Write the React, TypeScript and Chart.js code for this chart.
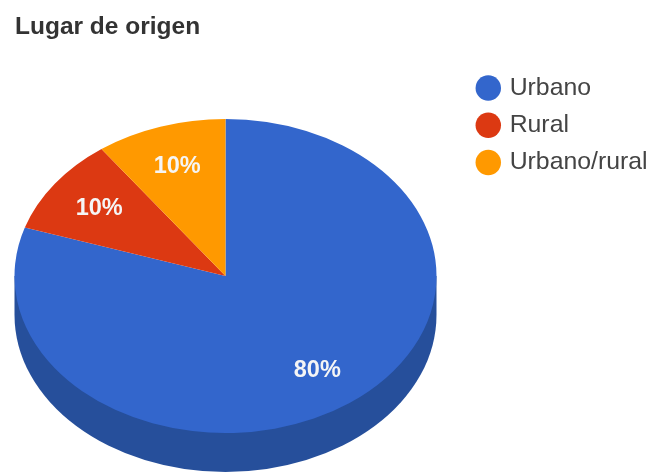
import React, { useEffect, useRef } from "react";
import { Chart, registerables } from "chart.js";

Chart.register(...registerables);

const categories = ["Urbano", "Rural", "Urbano/rural"];
const shares = [80, 10, 10];
const colors = ["#3366cc", "#dc3912", "#ff9900"];
const sideColor = "#264f9b";

const CX = 225.5;
const CY = 276;
const RX = 211;
const RY = 157;
const DEPTH = 39;
const LABEL_RADIUS = 0.74;
const LEGEND_SHIFT_X = 9.5;
const LEGEND_SHIFT_Y = 50;
const FONT = "Arial, 'Liberation Sans', sans-serif";

const tiltPlugin = {
  id: "tilt",
  afterLayout(chart: any) {
    chart.legend.left += LEGEND_SHIFT_X;
    chart.legend.right += LEGEND_SHIFT_X;
    chart.legend.top += LEGEND_SHIFT_Y;
    chart.legend.bottom += LEGEND_SHIFT_Y;
  },
  beforeDatasetsDraw(chart: any) {
    const { ctx } = chart;
    const arc = chart.getDatasetMeta(0).data[0];
    const r = arc.outerRadius;
    ctx.save();
    ctx.fillStyle = sideColor;
    ctx.beginPath();
    ctx.ellipse(CX, CY + DEPTH, RX, RY, 0, 0, Math.PI);
    ctx.lineTo(CX - RX, CY);
    ctx.lineTo(CX + RX, CY);
    ctx.closePath();
    ctx.fill();
    ctx.translate(CX, CY);
    ctx.scale(RX / r, RY / r);
    ctx.translate(-arc.x, -arc.y);
  },
  afterDatasetsDraw(chart: any) {
    const { ctx } = chart;
    ctx.restore();
    const meta = chart.getDatasetMeta(0);
    ctx.save();
    ctx.font = `bold 23.5px ${FONT}`;
    ctx.fillStyle = "#f5f5f5";
    ctx.textAlign = "center";
    ctx.textBaseline = "middle";
    meta.data.forEach((el: any, i: number) => {
      const mid = (el.startAngle + el.endAngle) / 2;
      const x = CX + Math.cos(mid) * RX * LABEL_RADIUS;
      const y = CY + 1 + Math.sin(mid) * RY * LABEL_RADIUS;
      ctx.fillText(`${shares[i]}%`, x, y);
    });
    ctx.restore();
  },
};

export default function App() {
  const ref = useRef<HTMLCanvasElement | null>(null);
  useEffect(() => {
    document.body.style.margin = "0";
    const chart = new Chart(ref.current!, {
      type: "pie",
      data: {
        labels: categories,
        datasets: [{ data: shares, backgroundColor: colors, borderWidth: 0 }],
      },
      plugins: [tiltPlugin],
      options: {
        responsive: false,
        animation: false,
        layout: { padding: { left: 15, top: 13, right: 3, bottom: 0 } },
        plugins: {
          tooltip: { enabled: false },
          title: {
            display: true,
            text: "Lugar de origen",
            align: "start",
            color: "#333333",
            font: { family: FONT, size: 24.5, weight: "bold" },
            padding: { top: 0, bottom: 6 },
          },
          legend: {
            position: "right",
            align: "start",
            labels: {
              usePointStyle: true,
              pointStyle: "circle",
              boxWidth: 18,
              boxHeight: 18,
              color: "#444444",
              padding: 12.5,
              font: { family: FONT, size: 24.8 },
            },
          },
        },
      },
    });
    return () => chart.destroy();
  }, []);
  return <canvas ref={ref} width={651} height={472} style={{ display: "block" }} />;
}
